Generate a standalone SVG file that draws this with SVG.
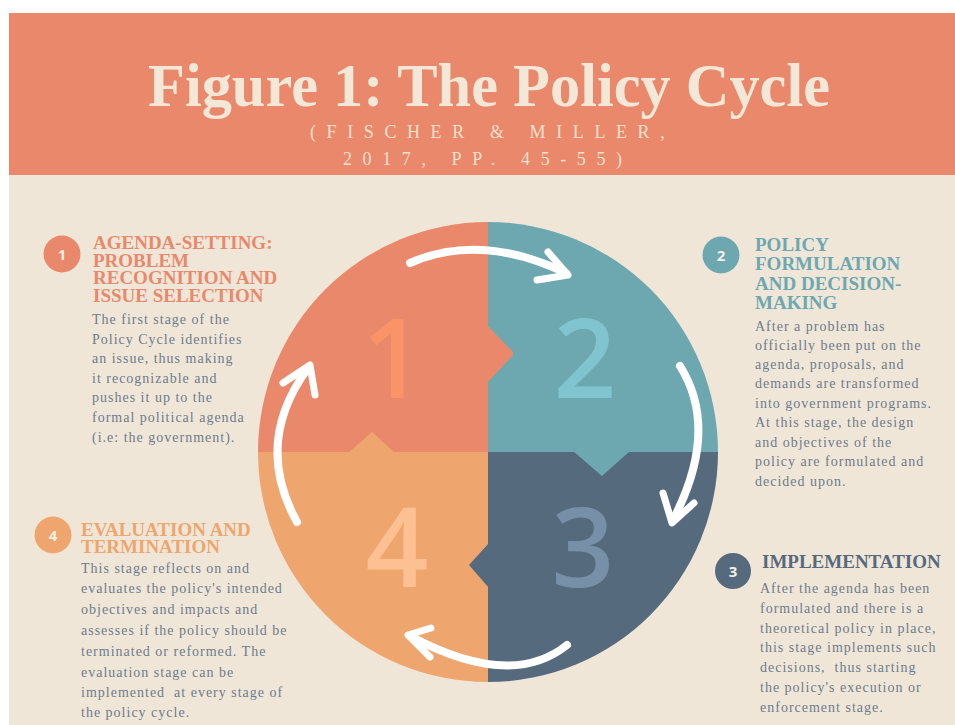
<svg xmlns="http://www.w3.org/2000/svg" width="955" height="725" viewBox="0 0 955 725">
  <style>
    .title { font-family: "Liberation Serif", "Times New Roman", serif; font-weight: bold; fill: #F3E8D8; }
    .sub { font-family: "Liberation Serif", "Times New Roman", serif; font-size: 18px; fill: #F5E0CE; letter-spacing: 10.6px; }
    .head { font-family: "Liberation Serif", "Times New Roman", serif; font-weight: bold; font-size: 19px; }
    .body { font-family: "Liberation Serif", "Times New Roman", serif; font-size: 14px; fill: #6C7C8C; letter-spacing: 1px; }
    .badge-num { font-family: "Open Sans", "DejaVu Sans", sans-serif; font-weight: bold; font-size: 15px; fill: #F7EEE4; text-anchor: middle; }
    .big { font-family: "Open Sans", "DejaVu Sans", sans-serif; font-weight: 600; font-size: 110px; text-anchor: middle; }
    .arc { fill: none; stroke: #FFFFFF; stroke-width: 8; stroke-linecap: round; }
    .barb { fill: none; stroke: #FFFFFF; stroke-width: 7; stroke-linecap: round; stroke-linejoin: round; }
  </style>

  <!-- page -->
  <rect x="0" y="0" width="955" height="725" fill="#FFFFFF"/>
  <rect x="9" y="13" width="946" height="162" fill="#E9886A"/>
  <rect x="9" y="175" width="946" height="550" fill="#F0E6D8"/>

  <!-- header -->
  <g id="header">
    <text class="title" x="489" y="106" font-size="62" text-anchor="middle" textLength="682" lengthAdjust="spacingAndGlyphs">Figure 1: The Policy Cycle</text>
    <text class="sub" x="310" y="138">(FISCHER &amp; MILLER,</text>
    <text class="sub" x="343" y="165">2017, PP. 45-55)</text>
  </g>

  <!-- puzzle wheel -->
  <g id="wheel">
    <path d="M488,452 L258,452 A230,230 0 0 1 488,222 Z" fill="#E9886A"/>
    <path d="M488,452 L488,222 A230,230 0 0 1 718,452 Z" fill="#6DA8B1"/>
    <path d="M488,452 L718,452 A230,230 0 0 1 488,682 Z" fill="#566A7E"/>
    <path d="M488,452 L488,682 A230,230 0 0 1 258,452 Z" fill="#EEA66E"/>
    <!-- interlocking tabs -->
    <polygon points="487,325 513,352 513,355 487,383" fill="#E9886A"/>
    <polygon points="573,451 602,476 630,451" fill="#6DA8B1"/>
    <polygon points="489,543 469,565 489,588" fill="#566A7E"/>
    <polygon points="348,453 372,432 395,453" fill="#EEA66E"/>
    <!-- stage numerals -->
    <text class="big" x="393" y="398" fill="#F99467">1</text>
    <text class="big" x="585" y="398" fill="#7FC4CF">2</text>
    <text class="big" x="583" y="587" fill="#7790A8">3</text>
    <text class="big" x="397" y="587" fill="#FCC093">4</text>
  </g>

  <!-- cycle arrows -->
  <g id="connectors">
    <path class="arc" d="M410,263 Q480,232 566,273"/>
    <polyline class="barb" points="548,252 568,275 537,280"/>
    <path class="arc" d="M680,366 Q720,430 673,520"/>
    <polyline class="barb" points="663,493 672,523 694,503"/>
    <path class="arc" d="M567,645 Q511,690 410,636"/>
    <polyline class="barb" points="431,628 408,635 430,657"/>
    <path class="arc" d="M297,522 Q253,443 308,368"/>
    <polyline class="barb" points="283,383 310,365 315,395"/>
  </g>

  <!-- stage 1 -->
  <g id="stage-1">
    <circle cx="62" cy="254" r="18.5" fill="#E9886A"/>
    <text class="badge-num" x="62" y="260">1</text>
    <text class="head" fill="#E9886A">
      <tspan x="93" y="249">AGENDA-SETTING:</tspan>
      <tspan x="93" y="267">PROBLEM</tspan>
      <tspan x="93" y="284">RECOGNITION AND</tspan>
      <tspan x="93" y="302">ISSUE SELECTION</tspan>
    </text>
    <text class="body">
      <tspan x="92" y="324">The first stage of the</tspan>
      <tspan x="92" y="344">Policy Cycle identifies</tspan>
      <tspan x="92" y="363">an issue, thus making</tspan>
      <tspan x="92" y="383">it recognizable and</tspan>
      <tspan x="92" y="402">pushes it up to the</tspan>
      <tspan x="92" y="422">formal political agenda</tspan>
      <tspan x="92" y="442">(i.e: the government).</tspan>
    </text>
  </g>

  <!-- stage 2 -->
  <g id="stage-2">
    <circle cx="721" cy="255" r="18.5" fill="#6DA8B1"/>
    <text class="badge-num" x="721" y="261">2</text>
    <text class="head" fill="#6DA8B1" font-size="21">
      <tspan x="755" y="251">POLICY</tspan>
      <tspan x="755" y="270">FORMULATION</tspan>
      <tspan x="755" y="290">AND DECISION-</tspan>
      <tspan x="755" y="309">MAKING</tspan>
    </text>
    <text class="body">
      <tspan x="755" y="331">After a problem has</tspan>
      <tspan x="755" y="350">officially been put on the</tspan>
      <tspan x="755" y="369">agenda, proposals, and</tspan>
      <tspan x="755" y="388">demands are transformed</tspan>
      <tspan x="755" y="408">into government programs.</tspan>
      <tspan x="755" y="427">At this stage, the design</tspan>
      <tspan x="755" y="447">and objectives of the</tspan>
      <tspan x="755" y="466">policy are formulated and</tspan>
      <tspan x="755" y="486">decided upon.</tspan>
    </text>
  </g>

  <!-- stage 3 -->
  <g id="stage-3">
    <circle cx="733" cy="571" r="18" fill="#566A7E"/>
    <text class="badge-num" x="733" y="577">3</text>
    <text class="head" fill="#566A7E" x="762" y="568">IMPLEMENTATION</text>
    <text class="body">
      <tspan x="760" y="593">After the agenda has been</tspan>
      <tspan x="760" y="613">formulated and there is a</tspan>
      <tspan x="760" y="633">theoretical policy in place,</tspan>
      <tspan x="760" y="652">this stage implements such</tspan>
      <tspan x="760" y="672" xml:space="preserve">decisions,  thus starting</tspan>
      <tspan x="760" y="692">the policy's execution or</tspan>
      <tspan x="760" y="712">enforcement stage.</tspan>
    </text>
  </g>

  <!-- stage 4 -->
  <g id="stage-4">
    <circle cx="53" cy="535" r="18.5" fill="#EEA66E"/>
    <text class="badge-num" x="53" y="541">4</text>
    <text class="head" fill="#EEA66E">
      <tspan x="81" y="536">EVALUATION AND</tspan>
      <tspan x="81" y="553">TERMINATION</tspan>
    </text>
    <text class="body" font-size="15">
      <tspan x="81" y="573">This stage reflects on and</tspan>
      <tspan x="81" y="593">evaluates the policy's intended</tspan>
      <tspan x="81" y="614">objectives and impacts and</tspan>
      <tspan x="81" y="635">assesses if the policy should be</tspan>
      <tspan x="81" y="656">terminated or reformed. The</tspan>
      <tspan x="81" y="677">evaluation stage can be</tspan>
      <tspan x="81" y="697" xml:space="preserve">implemented  at every stage of</tspan>
      <tspan x="81" y="717">the policy cycle.</tspan>
    </text>
  </g>
</svg>
